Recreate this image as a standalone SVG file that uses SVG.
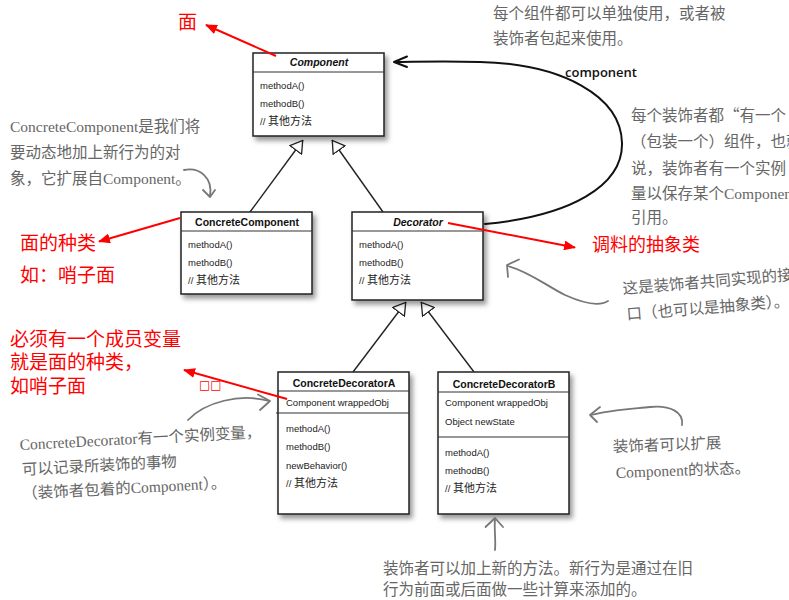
<svg xmlns="http://www.w3.org/2000/svg" width="789" height="600" viewBox="0 0 789 600">
<defs>
<style>
.box{fill:#fff;stroke:#222;stroke-width:1.5}
.sep{stroke:#333;stroke-width:1.2}
.title{font-family:"Liberation Sans",Arial,sans-serif;font-size:10.5px;font-weight:bold;fill:#111;text-anchor:middle}
.it{font-style:italic}
.m{font-family:"Liberation Sans",Arial,"Noto Sans CJK SC",sans-serif;font-size:9.5px;fill:#222}
.cj{font-family:"Noto Sans CJK SC",sans-serif;font-size:11px}
.note{font-family:"Liberation Serif","Noto Sans CJK SC",serif;font-size:15.5px;fill:#666}
.q{font-family:"Noto Sans CJK SC",sans-serif}
.red{font-family:"Noto Sans CJK SC",sans-serif;font-size:19px;fill:#f00}
.inh{fill:none;stroke:#222;stroke-width:1.4;marker-end:url(#tri)}
.rarr{fill:none;stroke:#f00;stroke-width:2;marker-end:url(#rhead)}
.garr{fill:none;stroke:#777;stroke-width:1.8;stroke-linecap:round;stroke-linejoin:round}
.assoc{fill:none;stroke:#111;stroke-width:2;stroke-linecap:round;stroke-linejoin:round}
.lbl{font-family:"Open Sans","Liberation Sans",sans-serif;font-size:13px;font-weight:600;fill:#111}
</style>
<filter id="sh" x="-10%" y="-10%" width="125%" height="125%">
<feDropShadow dx="3" dy="4" stdDeviation="2.5" flood-color="#000" flood-opacity="0.4"/>
</filter>
<marker id="tri" viewBox="0 0 13 16" refX="13" refY="8" markerWidth="13" markerHeight="16" markerUnits="userSpaceOnUse" orient="auto">
<path d="M0.7,0.7 L12.5,8 L0.7,15.3 Z" fill="#fff" stroke="#222" stroke-width="1.3"/>
</marker>
<marker id="rhead" viewBox="0 0 12 10" refX="11" refY="5" markerWidth="12" markerHeight="10" markerUnits="userSpaceOnUse" orient="auto">
<path d="M0,0 L12,5 L0,10 Z" fill="#f00"/>
</marker>
</defs>
<rect width="789" height="600" fill="#fff"/>

<g id="connectors">
<path class="inh" d="M250,212 L303,140"/>
<path class="inh" d="M383,212 L332,140"/>
<path class="inh" d="M353,372 L406,302"/>
<path class="inh" d="M474,372 L421,302"/>
<path class="assoc" d="M485,224 C570,216 623,186 622,143 C621,96 562,64 480,62 C440,61 412,62 395,62"/>
<polyline class="assoc" points="407,56.5 394,62 407,67"/>
<text class="lbl" x="565" y="77">component</text>
</g>

<g id="component">
<rect class="box" x="253" y="53" width="131" height="83" filter="url(#sh)"/>
<line class="sep" x1="253" y1="72" x2="384" y2="72"/>
<text class="title it" x="319" y="66">Component</text>
<text class="m" x="260" y="89">methodA()</text>
<text class="m" x="260" y="107">methodB()</text>
<text class="m" x="260" y="124.5">// <tspan class="cj">其他方法</tspan></text>
</g>

<g id="concretecomponent">
<rect class="box" x="181" y="212" width="131" height="82" filter="url(#sh)"/>
<line class="sep" x1="181" y1="231" x2="312" y2="231"/>
<text class="title" x="247" y="226">ConcreteComponent</text>
<text class="m" x="188" y="248">methodA()</text>
<text class="m" x="188" y="265.5">methodB()</text>
<text class="m" x="188" y="283.5">// <tspan class="cj">其他方法</tspan></text>
</g>

<g id="decorator">
<rect class="box" x="352" y="212" width="131" height="88" filter="url(#sh)"/>
<line class="sep" x1="352" y1="231" x2="483" y2="231"/>
<text class="title it" x="418" y="225.5">Decorator</text>
<text class="m" x="359" y="248">methodA()</text>
<text class="m" x="359" y="266">methodB()</text>
<text class="m" x="359" y="283.5">// <tspan class="cj">其他方法</tspan></text>
</g>

<g id="concretedecoratora">
<rect class="box" x="278" y="372" width="131" height="142" filter="url(#sh)"/>
<line class="sep" x1="278" y1="391" x2="409" y2="391"/>
<line class="sep" x1="276" y1="413" x2="409" y2="413"/>
<text class="title" x="344" y="386.5">ConcreteDecoratorA</text>
<text class="m" x="286" y="406">Component wrappedObj</text>
<text class="m" x="286" y="432">methodA()</text>
<text class="m" x="286" y="450">methodB()</text>
<text class="m" x="286" y="468.5">newBehavior()</text>
<text class="m" x="286" y="486.5">// <tspan class="cj">其他方法</tspan></text>
</g>

<g id="concretedecoratorb">
<rect class="box" x="438" y="372" width="131" height="142" filter="url(#sh)"/>
<line class="sep" x1="438" y1="392" x2="569" y2="392"/>
<line class="sep" x1="438" y1="437" x2="569" y2="437"/>
<text class="title" x="504" y="388">ConcreteDecoratorB</text>
<text class="m" x="445" y="406">Component wrappedObj</text>
<text class="m" x="445" y="424.5">Object newState</text>
<text class="m" x="445" y="455.5">methodA()</text>
<text class="m" x="445" y="473.5">methodB()</text>
<text class="m" x="445" y="491.5">// <tspan class="cj">其他方法</tspan></text>
</g>

<g id="notes">
<text class="note" x="493" y="19">每个组件都可以单独使用，或者被</text>
<text class="note" x="493" y="44">装饰者包起来使用。</text>

<text class="note" x="631" y="120.5">每个装饰者都<tspan class="q">“</tspan>有一个</text>
<text class="note" x="631" y="147">（包装一个）组件，也就</text>
<text class="note" x="631" y="173.5">说，装饰者有一个实例</text>
<text class="note" x="631" y="199">量以保存某个Componen</text>
<text class="note" x="631" y="222.5">引用。</text>

<text class="note" x="10" y="132">ConcreteComponent是我们将</text>
<text class="note" x="10" y="158">要动态地加上新行为的对</text>
<text class="note" x="10" y="184">象，它扩展自Component。</text>
<path class="garr" d="M184,170 C200,167 213,178 210,196"/>
<polyline class="garr" points="203,190 210,197 215,190"/>

<g transform="rotate(-4.7 623 294)">
<text class="note" x="623" y="294">这是装饰者共同实现的接</text>
<text class="note" x="625" y="320">口（也可以是抽象类）。</text>
</g>
<path class="garr" d="M608,301 C600,306 585,304 565,295 C545,285 530,272 508,266"/>
<polyline class="garr" points="519,259.5 507,265 508,277"/>

<g transform="rotate(-3 20 450)">
<text class="note" x="20" y="450">ConcreteDecorator有一个实例变量，</text>
<text class="note" x="21" y="475">可以记录所装饰的事物</text>
<text class="note" x="20" y="499">（装饰者包着的Component）。</text>
</g>
<path class="garr" d="M188,420 C205,402 240,393 269,401"/>
<polyline class="garr" points="258,394.5 270,401 260,410"/>

<g transform="rotate(-2 613 452)">
<text class="note" x="613" y="452">装饰者可以扩展</text>
<text class="note" x="615" y="478">Component的状态。</text>
</g>
<path class="garr" d="M682,425 C684,412 670,405 650,407 C630,409 610,410 591,415"/>
<polyline class="garr" points="600,407 590,415 597,422"/>

<text class="note" x="383" y="574">装饰者可以加上新的方法。新行为是通过在旧</text>
<text class="note" x="383" y="595">行为前面或后面做一些计算来添加的。</text>
<path class="garr" d="M495,550 C496,540 494,530 495,519"/>
<polyline class="garr" points="485.5,527 495,518 503,527"/>
</g>

<g id="red-notes">
<text class="red" x="178" y="29">面</text>
<path class="rarr" d="M276,56 L206,25"/>
<text class="red" x="20" y="250">面的种类</text>
<text class="red" x="20" y="282">如：哨子面</text>
<path class="rarr" d="M180,218 L99,241.5"/>
<text class="red" x="592" y="250.5" style="font-size:18px">调料的抽象类</text>
<path class="rarr" d="M448,223 L575,247.5"/>
<text class="red"><tspan x="10" y="346">必须有一个成员变量</tspan><tspan x="10" y="369">就是面的种类，</tspan><tspan x="10" y="393">如哨子面</tspan></text>
<text x="199" y="389" style="font-family:'DejaVu Sans',sans-serif;font-size:12px;fill:#f00">□□</text>
<path class="rarr" d="M287,399 L184,370"/>
</g>
</svg>
